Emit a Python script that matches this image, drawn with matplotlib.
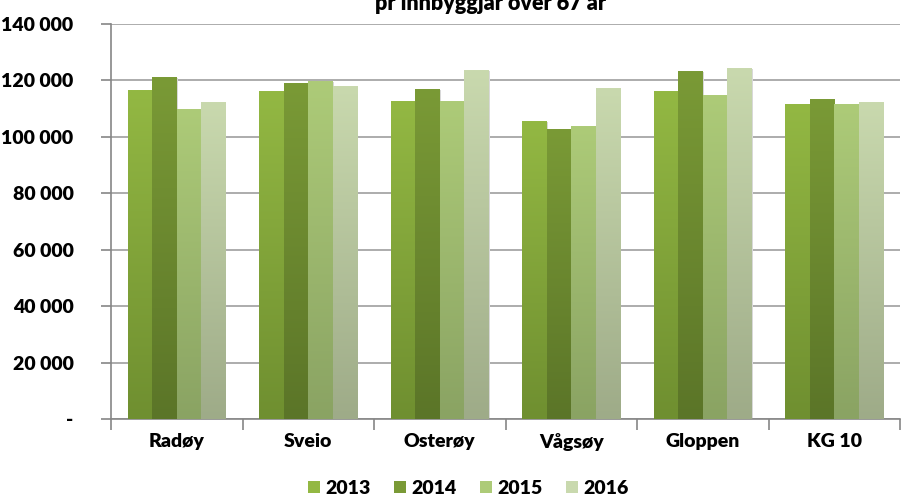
import matplotlib.pyplot as plt
import numpy as np
from matplotlib.colors import LinearSegmentedColormap
from matplotlib.patches import Patch

plt.rcParams["font.family"] = ["Lato", "DejaVu Sans"]
plt.rcParams["font.weight"] = "heavy"

municipalities = ["Radøy", "Sveio", "Osterøy", "Vågsøy", "Gloppen", "KG 10"]
years = ["2013", "2014", "2015", "2016"]
values = {
    "2013": [116300, 116000, 112400, 105300, 116000, 111300],
    "2014": [120900, 118800, 116700, 102500, 123000, 113100],
    "2015": [109600, 119500, 112400, 103500, 114500, 111300],
    "2016": [112000, 117700, 123400, 117000, 124100, 112000],
}
top_colors = ["#93b843", "#7a9a36", "#adcb78", "#c9d9ae"]
bottom_colors = ["#6f8f30", "#5b7528", "#8aa363", "#9eab88"]
yticks = [0, 20000, 40000, 60000, 80000, 100000, 120000, 140000]
ytick_labels = ["-", "20 000", "40 000", "60 000", "80 000", "100 000", "120 000", "140 000"]

fig = plt.figure(figsize=(9.01, 4.97), dpi=100)
ax = fig.add_axes([0.1232, 0.157, 0.8758, 0.7948])

x = np.arange(len(municipalities))
width = 0.186
offsets = (np.arange(len(years)) - 1.5) * width
grad = np.linspace(0, 1, 256).reshape(-1, 1)

for i, year in enumerate(years):
    # soft shadow on the right side
    ax.bar(x + offsets[i] + 0.006, values[year], width, color="#d8d8d8", zorder=2)
    bars = ax.bar(x + offsets[i], values[year], width, color=top_colors[i], zorder=3)
    cmap = LinearSegmentedColormap.from_list(year, [bottom_colors[i], top_colors[i]])
    for b in bars:
        x0, w, h = b.get_x(), b.get_width(), b.get_height()
        ax.imshow(grad, extent=[x0, x0 + w, 0, h], origin="lower", aspect="auto",
                  cmap=cmap, zorder=4)

ax.set_xlim(-0.5, len(municipalities) - 0.5)
ax.set_ylim(0, 140000)
ax.set_yticks(yticks)
ax.set_yticklabels(ytick_labels, fontsize=14, fontweight="heavy")
ax.yaxis.grid(True, color="#a6a6a6", linewidth=1.3, zorder=0)
ax.set_axisbelow(True)

ax.set_xticks(x)
ax.set_xticklabels(municipalities, fontsize=14, fontweight="heavy")
ax.tick_params(axis="x", length=0, pad=10)
ax.set_xticks(np.arange(len(municipalities) + 1) - 0.5, minor=True)
ax.tick_params(axis="x", which="minor", length=8, color="#868686", width=1.2)
ax.tick_params(axis="y", length=7, color="#868686", width=1.2, pad=20)

for s in ["top", "right"]:
    ax.spines[s].set_visible(False)
for s in ["left", "bottom"]:
    ax.spines[s].set_color("#868686")
    ax.spines[s].set_linewidth(1.2)

fig.text(0.544, 0.994, "pr innbyggjar over 67 år", ha="center", va="center",
         fontsize=15.5, fontweight="heavy")

handles = [Patch(facecolor=top_colors[i], edgecolor="none") for i in range(len(years))]
fig.legend(handles, years, loc="center", bbox_to_anchor=(0.52, 0.017), ncol=4,
           frameon=False, handlelength=0.6, handleheight=0.6,
           handletextpad=0.3, columnspacing=1.2, prop={"weight": "heavy", "size": 14})

fig.savefig("out.png", dpi=100)
